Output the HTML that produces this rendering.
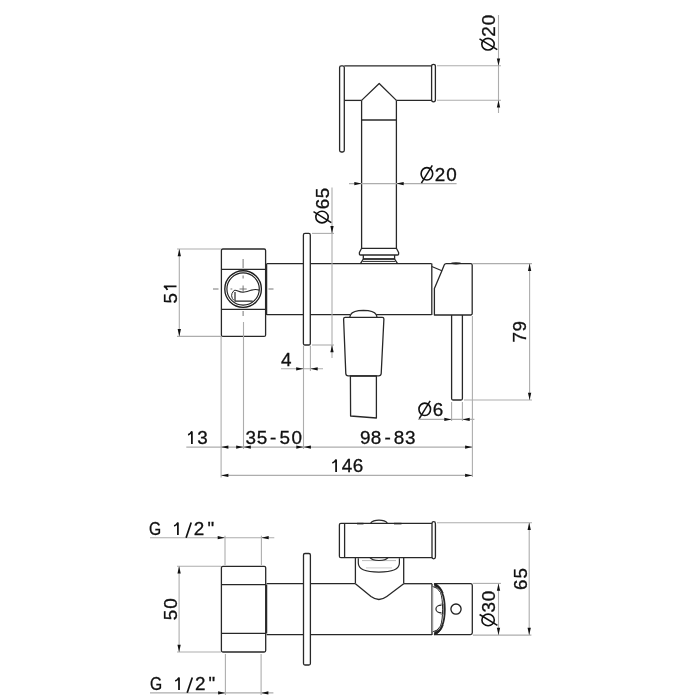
<!DOCTYPE html>
<html><head><meta charset="utf-8"><style>
html,body{margin:0;padding:0;background:#fff;width:700px;height:700px;overflow:hidden}
svg{display:block;will-change:transform}
text{font-family:"Liberation Sans",sans-serif}
</style></head><body>
<svg width="700" height="700" viewBox="0 0 700 700">
<rect width="700" height="700" fill="#fff"/>
<path d="M339.6,67.5 Q339.6,65.8 341.3,65.8 L342.6,65.8 Q344.3,65.8 344.3,67.5 L344.3,150.3 Q344.3,152 342.6,152 L341.3,152 Q339.6,152 339.6,150.3 Z" stroke="#282828" stroke-width="1.3" fill="none" stroke-linejoin="round" />
<line x1="344.3" y1="65.8" x2="431.6" y2="65.8" stroke="#282828" stroke-width="1.3" />
<line x1="344.3" y1="100.4" x2="361.6" y2="100.4" stroke="#282828" stroke-width="1.3" />
<line x1="396.4" y1="100.4" x2="431.6" y2="100.4" stroke="#282828" stroke-width="1.3" />
<path d="M361.6,100.4 L379.2,83.5 L396.4,100.4" stroke="#282828" stroke-width="1.3" fill="none" stroke-linejoin="round" />
<path d="M431.6,66.2 Q431.6,64.4 433.5,64.4 Q435.4,64.4 435.4,66.2 L435.4,100 Q435.4,101.8 433.5,101.8 Q431.6,101.8 431.6,100 Z" stroke="#282828" stroke-width="1.3" fill="none" stroke-linejoin="round" />
<line x1="361.6" y1="100.4" x2="361.6" y2="248.3" stroke="#282828" stroke-width="1.3" />
<line x1="396.4" y1="100.4" x2="396.4" y2="248.3" stroke="#282828" stroke-width="1.3" />
<line x1="361.6" y1="120.0" x2="396.4" y2="120.0" stroke="#282828" stroke-width="1.7" />
<path d="M361.6,248.3 L396.4,248.3 L398.6,252.5 L398.6,254.2 Q398.6,255 397.6,255 L360.4,255 Q359.4,255 359.4,254.2 L359.4,252.5 Z" stroke="#282828" stroke-width="1.3" fill="none" stroke-linejoin="round" />
<path d="M363.3,255 L363.3,259 L394.6,259 L394.6,255" stroke="#282828" stroke-width="1.3" fill="none" stroke-linejoin="round" />
<line x1="363.3" y1="259" x2="394.6" y2="259" stroke="#282828" stroke-width="1.2" />
<line x1="362.5" y1="261.4" x2="395.4" y2="261.4" stroke="#282828" stroke-width="1.0" />
<path d="M363.3,259 L360.6,263.4 M394.6,259 L397.4,263.4" stroke="#282828" stroke-width="1.3" fill="none" stroke-linejoin="round" />
<path d="M221.4,250.5 Q221.4,249 222.9,249 L264.1,249 Q265.6,249 265.6,250.5 L265.6,334.9 Q265.6,336.4 264.1,336.4 L222.9,336.4 Q221.4,336.4 221.4,334.9 Z" stroke="#282828" stroke-width="1.3" fill="none" stroke-linejoin="round" />
<line x1="221.4" y1="269.4" x2="265.6" y2="269.4" stroke="#282828" stroke-width="1.3" />
<line x1="221.4" y1="309.4" x2="265.6" y2="309.4" stroke="#282828" stroke-width="1.3" />
<circle cx="243.1" cy="289" r="18.3" stroke="#1e1e1e" stroke-width="1.35" fill="none"/>
<circle cx="243.1" cy="289" r="16.2" stroke="#1e1e1e" stroke-width="1.15" fill="none"/>
<path d="M234.1,290.4 Q235.6,289.9 237.9,291 Q240.5,292.2 243,292.2 Q247,292 251.6,290.1 Q255.6,289 259.3,290.1" stroke="#282828" stroke-width="1.1" fill="none" stroke-linejoin="round" />
<path d="M235,291.9 L235,301.2 L252.7,301.2" stroke="#282828" stroke-width="1.2" fill="none" stroke-linejoin="round" />
<path d="M234.1,290.4 Q231.2,293.5 231.6,295.8 Q232,298.8 233.8,300.3" stroke="#282828" stroke-width="1.0" fill="none" stroke-linejoin="round" />
<line x1="243.1" y1="259" x2="243.1" y2="268" stroke="#666" stroke-width="0.9" />
<line x1="243.1" y1="275.5" x2="243.1" y2="278.5" stroke="#666" stroke-width="0.9" />
<line x1="243.1" y1="285.5" x2="243.1" y2="292.5" stroke="#666" stroke-width="0.9" />
<line x1="213" y1="289" x2="218.5" y2="289" stroke="#666" stroke-width="0.9" />
<line x1="230.5" y1="289" x2="232.3" y2="289" stroke="#666" stroke-width="0.9" />
<line x1="239.5" y1="289" x2="246.7" y2="289" stroke="#666" stroke-width="0.9" />
<line x1="268.5" y1="289" x2="273.5" y2="289" stroke="#666" stroke-width="0.9" />
<line x1="243.1" y1="311" x2="243.1" y2="316" stroke="#666" stroke-width="0.9" />
<line x1="266.8" y1="263.6" x2="431.6" y2="263.6" stroke="#282828" stroke-width="1.3" />
<line x1="266.8" y1="314.6" x2="350.6" y2="314.6" stroke="#282828" stroke-width="1.3" />
<line x1="376.2" y1="314.6" x2="431.6" y2="314.6" stroke="#282828" stroke-width="1.3" />
<path d="M266.6,263.6 L266.6,315" stroke="#282828" stroke-width="1.3" fill="none" stroke-linejoin="round" />
<line x1="431.8" y1="263.6" x2="431.8" y2="315" stroke="#282828" stroke-width="1.3" />
<path d="M303.4,235 Q303.4,233.4 305,233.4 L308.7,233.4 Q310.3,233.4 310.3,235 L310.3,343.4 Q310.3,345 308.7,345 L305,345 Q303.4,345 303.4,343.4 Z" stroke="#282828" stroke-width="1.3" fill="#fff" stroke-linejoin="round" />
<path d="M434.4,315 L434.4,288.6 L441.9,270.8 L444.2,265 Q444.8,263.6 446.2,263.6 L470.8,263.6 Q472.2,263.6 472.2,265 L472.2,313.6 Q472.2,315 470.8,315 Z" stroke="#282828" stroke-width="1.3" fill="#fff" stroke-linejoin="round" />
<path d="M431.8,266.4 L441.9,270.8" stroke="#282828" stroke-width="1.1" fill="none" stroke-linejoin="round" />
<ellipse cx="456" cy="263.3" rx="5" ry="1.1" fill="#222"/>
<path d="M451.6,315 L451.6,398.5 Q451.6,400 453,400 L461,400 Q462.4,400 462.4,398.5 L462.4,315" stroke="#282828" stroke-width="1.3" fill="none" stroke-linejoin="round" />
<path d="M350.6,314.6 Q353,310.6 363.4,310.4 Q373.8,310.6 376.2,314.6 L377,317" stroke="#282828" stroke-width="1.3" fill="none" stroke-linejoin="round" />
<path d="M350.6,314.6 L349.8,317" stroke="#282828" stroke-width="1.3" fill="none" stroke-linejoin="round" />
<path d="M343.6,319 Q343.6,317.4 345.2,317.4 L382.3,317.4 Q383.9,317.4 383.9,319 L381.2,373.5 Q381,375.8 378.7,375.8 L348.2,375.8 Q345.9,375.8 345.8,373.5 Z" stroke="#282828" stroke-width="1.3" fill="#fff" stroke-linejoin="round" />
<path d="M350.4,376 L376.4,376 L376.4,418 L350.6,416 Z" stroke="#282828" stroke-width="1.3" fill="none" stroke-linejoin="round" />
<line x1="437" y1="65.7" x2="501" y2="65.7" stroke="#adadad" stroke-width="1.1" />
<line x1="437" y1="100.3" x2="501" y2="100.3" stroke="#adadad" stroke-width="1.1" />
<line x1="498.5" y1="15" x2="498.5" y2="113" stroke="#adadad" stroke-width="1.1" />
<polygon points="498.50,65.70 496.85,58.40 500.15,58.40" fill="#111"/>
<polygon points="498.50,100.30 496.85,107.60 500.15,107.60" fill="#111"/>
<line x1="349" y1="183.6" x2="456.6" y2="183.6" stroke="#adadad" stroke-width="1.1" />
<polygon points="361.60,183.60 354.30,181.95 354.30,185.25" fill="#111"/>
<polygon points="396.40,183.60 403.70,181.95 403.70,185.25" fill="#111"/>
<line x1="312" y1="233.4" x2="334" y2="233.4" stroke="#adadad" stroke-width="1.1" />
<line x1="312" y1="345" x2="334" y2="345" stroke="#adadad" stroke-width="1.1" />
<line x1="332" y1="187.4" x2="332" y2="358" stroke="#adadad" stroke-width="1.1" />
<polygon points="332.00,233.40 330.35,226.10 333.65,226.10" fill="#111"/>
<polygon points="332.00,345.00 330.35,352.30 333.65,352.30" fill="#111"/>
<line x1="303.5" y1="346" x2="303.5" y2="449" stroke="#adadad" stroke-width="1.1" />
<line x1="310.4" y1="346" x2="310.4" y2="371" stroke="#adadad" stroke-width="1.1" />
<line x1="281" y1="368.8" x2="323" y2="368.8" stroke="#adadad" stroke-width="1.1" />
<polygon points="303.50,368.80 296.20,367.15 296.20,370.45" fill="#111"/>
<polygon points="310.40,368.80 317.70,367.15 317.70,370.45" fill="#111"/>
<line x1="177" y1="249" x2="221" y2="249" stroke="#adadad" stroke-width="1.1" />
<line x1="177" y1="336.4" x2="221" y2="336.4" stroke="#adadad" stroke-width="1.1" />
<line x1="179.3" y1="249" x2="179.3" y2="336.4" stroke="#adadad" stroke-width="1.1" />
<polygon points="179.30,249.00 177.65,256.30 180.95,256.30" fill="#111"/>
<polygon points="179.30,336.40 177.65,329.10 180.95,329.10" fill="#111"/>
<line x1="472.5" y1="263.6" x2="532" y2="263.6" stroke="#adadad" stroke-width="1.1" />
<line x1="464" y1="400" x2="532" y2="400" stroke="#adadad" stroke-width="1.1" />
<line x1="529.6" y1="263.6" x2="529.6" y2="400" stroke="#adadad" stroke-width="1.1" />
<polygon points="529.60,263.60 527.95,270.90 531.25,270.90" fill="#111"/>
<polygon points="529.60,400.00 527.95,392.70 531.25,392.70" fill="#111"/>
<line x1="451.6" y1="402" x2="451.6" y2="421" stroke="#adadad" stroke-width="1.1" />
<line x1="462.4" y1="402" x2="462.4" y2="421" stroke="#adadad" stroke-width="1.1" />
<line x1="418" y1="419.4" x2="474.4" y2="419.4" stroke="#adadad" stroke-width="1.1" />
<polygon points="451.60,419.40 444.30,417.75 444.30,421.05" fill="#111"/>
<polygon points="462.40,419.40 469.70,417.75 469.70,421.05" fill="#111"/>
<line x1="221.1" y1="337" x2="221.1" y2="477.4" stroke="#adadad" stroke-width="1.1" />
<line x1="243.5" y1="322" x2="243.5" y2="449" stroke="#adadad" stroke-width="1.1" />
<line x1="472.4" y1="316" x2="472.4" y2="477" stroke="#adadad" stroke-width="1.1" />
<line x1="186.3" y1="447.1" x2="472.4" y2="447.1" stroke="#adadad" stroke-width="1.1" />
<polygon points="221.10,447.10 228.40,445.45 228.40,448.75" fill="#111"/>
<polygon points="243.50,447.10 236.20,445.45 236.20,448.75" fill="#111"/>
<polygon points="243.50,447.10 250.80,445.45 250.80,448.75" fill="#111"/>
<polygon points="303.60,447.10 296.30,445.45 296.30,448.75" fill="#111"/>
<polygon points="303.60,447.10 310.90,445.45 310.90,448.75" fill="#111"/>
<polygon points="472.40,447.10 465.10,445.45 465.10,448.75" fill="#111"/>
<line x1="221.1" y1="475.4" x2="472.4" y2="475.4" stroke="#adadad" stroke-width="1.1" />
<polygon points="221.10,475.40 228.40,473.75 228.40,477.05" fill="#111"/>
<polygon points="472.40,475.40 465.10,473.75 465.10,477.05" fill="#111"/>
<path d="M221.4,567.8 Q221.4,566.3 222.9,566.3 L264.2,566.3 Q265.7,566.3 265.7,567.8 L265.7,650.5 Q265.7,652 264.2,652 L222.9,652 Q221.4,652 221.4,650.5 Z" stroke="#282828" stroke-width="1.3" fill="none" stroke-linejoin="round" />
<line x1="221.4" y1="584.6" x2="265.7" y2="584.6" stroke="#282828" stroke-width="1.3" />
<line x1="221.4" y1="633.4" x2="265.7" y2="633.4" stroke="#282828" stroke-width="1.3" />
<line x1="266.6" y1="584.6" x2="266.6" y2="633.4" stroke="#282828" stroke-width="1.3" />
<line x1="266.6" y1="583.7" x2="355.4" y2="583.7" stroke="#282828" stroke-width="1.3" />
<line x1="403.7" y1="583.7" x2="432" y2="583.7" stroke="#282828" stroke-width="1.3" />
<line x1="266.6" y1="634.6" x2="432" y2="634.6" stroke="#282828" stroke-width="1.3" />
<line x1="432" y1="583.7" x2="432" y2="635" stroke="#282828" stroke-width="1.3" />
<path d="M303.5,555 Q303.5,553.5 305,553.5 L308.9,553.5 Q310.4,553.5 310.4,555 L310.4,663.5 Q310.4,665 308.9,665 L305,665 Q303.5,665 303.5,663.5 Z" stroke="#282828" stroke-width="1.3" fill="#fff" stroke-linejoin="round" />
<line x1="355.4" y1="557.7" x2="355.4" y2="583.7" stroke="#282828" stroke-width="1.3" />
<line x1="403.7" y1="557.7" x2="403.7" y2="583.7" stroke="#282828" stroke-width="1.3" />
<path d="M355.4,583.7 L371,596.6 Q378.9,602.4 386.8,596.6 L403.7,583.7" stroke="#282828" stroke-width="1.3" fill="#fff" stroke-linejoin="round" />
<path d="M358.3,558.2 L358.3,563 Q358.3,572.1 378.9,572.1 Q399.4,572.1 399.4,563 L399.4,558.2" stroke="#282828" stroke-width="1.2" fill="none" stroke-linejoin="round" />
<line x1="366" y1="567.9" x2="392" y2="567.9" stroke="#ccc" stroke-width="1.0" />
<line x1="362" y1="560.6" x2="396" y2="560.6" stroke="#bbb" stroke-width="1.0" />
<path d="M339.4,524.8 Q339.4,523.3 340.9,523.3 L433.5,523.3 Q435.4,523.3 435.4,525.2 L435.4,556 Q435.4,557.7 433.5,557.7 L340.9,557.7 Q339.4,557.7 339.4,556.2 Z" stroke="#282828" stroke-width="1.3" fill="#fff" stroke-linejoin="round" />
<line x1="344.6" y1="523.3" x2="344.6" y2="557.7" stroke="#282828" stroke-width="1.3" />
<path d="M432,523.5 Q432,521.7 433.7,521.7 Q435.4,521.7 435.4,523.5 L435.4,557.1 Q435.4,558.9 433.7,558.9 Q432,558.9 432,557.1 Z" stroke="#282828" stroke-width="1.3" fill="#fff" stroke-linejoin="round" />
<path d="M370.5,523.3 Q373,520.2 379,520.2 Q385,520.2 387.5,523.3" stroke="#282828" stroke-width="1.2" fill="none" stroke-linejoin="round" />
<path d="M370,557.7 Q372,560.5 379,560.5 Q386,560.5 388,557.7" stroke="#282828" stroke-width="1.2" fill="none" stroke-linejoin="round" />
<line x1="357" y1="523.6" x2="363.5" y2="523.6" stroke="#282828" stroke-width="1.6" />
<line x1="394" y1="523.6" x2="401.5" y2="523.6" stroke="#282828" stroke-width="1.6" />
<path d="M434.3,583.6 L470.5,583.6 Q472.3,583.6 472.3,585.4 L472.3,632.8 Q472.3,634.6 470.5,634.6 L434.3,634.6" stroke="#282828" stroke-width="1.3" fill="none" stroke-linejoin="round" />
<path d="M434.3,583.8 Q444.8,589 444.8,609.2 Q444.8,629.4 434.3,634.5" stroke="#282828" stroke-width="1.8" fill="none" stroke-linejoin="round" />
<path d="M432.8,586.6 Q437.5,587 440.5,592.5 Q442.6,598 442.6,609.2 Q442.6,620.4 440.5,626 Q437.5,631.3 432.8,631.8" stroke="#282828" stroke-width="1.0" fill="none" stroke-linejoin="round" />
<path d="M441.5,605.2 A5.6,3.8 0 0 0 441.5,612.8" stroke="#282828" stroke-width="1.2" fill="none" stroke-linejoin="round" />
<path d="M440.6,604 L443.6,604 L443.6,614.2 L440.6,614.2" stroke="#555" stroke-width="0.7" fill="none" stroke-linejoin="round" />
<path d="M434.3,583.6 Q440.5,585.5 443.2,593 Q439.5,587.8 434.6,586.6 Z" stroke="#282828" stroke-width="0.6" fill="#1e1e1e" stroke-linejoin="round" />
<path d="M434.3,634.8 Q440.5,632.9 443.2,625.4 Q439.5,630.6 434.6,631.8 Z" stroke="#282828" stroke-width="0.6" fill="#1e1e1e" stroke-linejoin="round" />
<line x1="432.9" y1="587" x2="432.9" y2="631.5" stroke="#bbb" stroke-width="0.9" />
<circle cx="456" cy="609.1" r="5.1" stroke="#1e1e1e" stroke-width="1.3" fill="none"/>
<line x1="150" y1="537.7" x2="274.3" y2="537.7" stroke="#adadad" stroke-width="1.1" />
<polygon points="225.00,537.70 217.70,536.05 217.70,539.35" fill="#111"/>
<polygon points="261.40,537.70 268.70,536.05 268.70,539.35" fill="#111"/>
<line x1="225" y1="535.7" x2="225" y2="565" stroke="#adadad" stroke-width="1.1" />
<line x1="261.4" y1="535.7" x2="261.4" y2="565" stroke="#adadad" stroke-width="1.1" />
<line x1="150" y1="692.9" x2="273.4" y2="692.9" stroke="#adadad" stroke-width="1.1" />
<polygon points="225.40,692.90 218.10,691.25 218.10,694.55" fill="#111"/>
<polygon points="261.10,692.90 268.40,691.25 268.40,694.55" fill="#111"/>
<line x1="225.4" y1="654" x2="225.4" y2="695" stroke="#adadad" stroke-width="1.1" />
<line x1="261.1" y1="654" x2="261.1" y2="695" stroke="#adadad" stroke-width="1.1" />
<line x1="177" y1="566.3" x2="221" y2="566.3" stroke="#adadad" stroke-width="1.1" />
<line x1="177" y1="652" x2="221" y2="652" stroke="#adadad" stroke-width="1.1" />
<line x1="179.1" y1="566.3" x2="179.1" y2="652" stroke="#adadad" stroke-width="1.1" />
<polygon points="179.10,566.30 177.45,573.60 180.75,573.60" fill="#111"/>
<polygon points="179.10,652.00 177.45,644.70 180.75,644.70" fill="#111"/>
<line x1="473" y1="583.4" x2="501" y2="583.4" stroke="#adadad" stroke-width="1.1" />
<line x1="473" y1="635.1" x2="531.4" y2="635.1" stroke="#adadad" stroke-width="1.1" />
<line x1="498.5" y1="583.4" x2="498.5" y2="635.1" stroke="#adadad" stroke-width="1.1" />
<polygon points="498.50,583.40 496.85,590.70 500.15,590.70" fill="#111"/>
<polygon points="498.50,635.10 496.85,627.80 500.15,627.80" fill="#111"/>
<line x1="437" y1="522.8" x2="532" y2="522.8" stroke="#adadad" stroke-width="1.1" />
<line x1="529.2" y1="522.8" x2="529.2" y2="635.1" stroke="#adadad" stroke-width="1.1" />
<polygon points="529.20,522.80 527.55,530.10 530.85,530.10" fill="#111"/>
<polygon points="529.20,635.10 527.55,627.80 530.85,627.80" fill="#111"/>
<g fill="#111" font-family="Liberation Sans, sans-serif">
<g transform="translate(494.7,50.7) rotate(-90)"><ellipse cx="6.5" cy="-6.7" rx="5.8" ry="6.2" stroke="#111" stroke-width="1.6" fill="none"/><line x1="1" y1="2.6" x2="11.9" y2="-15.2" stroke="#111" stroke-width="1.5"/></g>
<g transform="translate(494.7,0) rotate(-90)"><text transform="translate(-36.65,0.00) scale(1.05,1)" x="0" y="0" font-size="18.0" stroke="#111" stroke-width="0.3">2</text></g>
<g transform="translate(494.7,0) rotate(-90)"><text transform="translate(-25.34,0.00) scale(1.05,1)" x="0" y="0" font-size="18.0" stroke="#111" stroke-width="0.3">0</text></g>
<ellipse cx="426.90" cy="173.80" rx="5.8" ry="6.2" stroke="#111" stroke-width="1.6" fill="none"/>
<line x1="421.40" y1="183.10" x2="432.30" y2="165.30" stroke="#111" stroke-width="1.5"/>
<text transform="translate(434.75,180.50) scale(1.05,1)" x="0" y="0" font-size="18.0" stroke="#111" stroke-width="0.3">2</text>
<text transform="translate(446.36,180.50) scale(1.05,1)" x="0" y="0" font-size="18.0" stroke="#111" stroke-width="0.3">0</text>
<g transform="translate(328.7,223.6) rotate(-90)"><ellipse cx="6.5" cy="-6.7" rx="5.8" ry="6.2" stroke="#111" stroke-width="1.6" fill="none"/><line x1="1" y1="2.6" x2="11.9" y2="-15.2" stroke="#111" stroke-width="1.5"/></g>
<g transform="translate(328.7,0) rotate(-90)"><text transform="translate(-209.16,0.00) scale(1.05,1)" x="0" y="0" font-size="18.0" stroke="#111" stroke-width="0.3">6</text></g>
<g transform="translate(328.7,0) rotate(-90)"><text transform="translate(-198.26,0.00) scale(1.05,1)" x="0" y="0" font-size="18.0" stroke="#111" stroke-width="0.3">5</text></g>
<text transform="translate(280.97,365.50) scale(1.05,1)" x="0" y="0" font-size="18.0" stroke="#111" stroke-width="0.3">4</text>
<g transform="translate(176.5,0) rotate(-90)"><text transform="translate(-303.51,0.00) scale(1.05,1)" x="0" y="0" font-size="18.0" stroke="#111" stroke-width="0.3">5</text></g>
<g transform="translate(176.5,0) rotate(-90)"><path d="M-290.05,-9.10 Q-287.65,-9.90 -286.25,-12.50 L-286.25,0.00" stroke="#111" stroke-width="1.75" fill="none"/></g>
<g transform="translate(526.4,0) rotate(-90)"><text transform="translate(-342.46,0.00) scale(1.05,1)" x="0" y="0" font-size="18.0" stroke="#111" stroke-width="0.3">7</text></g>
<g transform="translate(526.4,0) rotate(-90)"><text transform="translate(-331.39,0.00) scale(1.05,1)" x="0" y="0" font-size="18.0" stroke="#111" stroke-width="0.3">9</text></g>
<ellipse cx="424.75" cy="409.30" rx="5.8" ry="6.2" stroke="#111" stroke-width="1.6" fill="none"/>
<line x1="419.25" y1="418.60" x2="430.15" y2="400.80" stroke="#111" stroke-width="1.5"/>
<text transform="translate(432.79,416.00) scale(1.05,1)" x="0" y="0" font-size="18.0" stroke="#111" stroke-width="0.3">6</text>
<path d="M188.10,434.80 Q190.50,434.00 191.90,431.40 L191.90,443.90" stroke="#111" stroke-width="1.75" fill="none"/>
<text transform="translate(197.28,443.90) scale(1.05,1)" x="0" y="0" font-size="18.0" stroke="#111" stroke-width="0.3">3</text>
<text transform="translate(245.38,443.90) scale(1.05,1)" x="0" y="0" font-size="18.0" stroke="#111" stroke-width="0.3">3</text>
<text transform="translate(256.84,443.90) scale(1.05,1)" x="0" y="0" font-size="18.0" stroke="#111" stroke-width="0.3">5</text>
<text transform="translate(270.07,443.90) scale(1.05,1)" x="0" y="0" font-size="18.0" stroke="#111" stroke-width="0.3">-</text>
<text transform="translate(279.44,443.90) scale(1.05,1)" x="0" y="0" font-size="18.0" stroke="#111" stroke-width="0.3">5</text>
<text transform="translate(291.46,443.90) scale(1.05,1)" x="0" y="0" font-size="18.0" stroke="#111" stroke-width="0.3">0</text>
<text transform="translate(360.11,444.20) scale(1.05,1)" x="0" y="0" font-size="18.0" stroke="#111" stroke-width="0.3">9</text>
<text transform="translate(370.79,444.20) scale(1.05,1)" x="0" y="0" font-size="18.0" stroke="#111" stroke-width="0.3">8</text>
<text transform="translate(384.47,444.20) scale(1.05,1)" x="0" y="0" font-size="18.0" stroke="#111" stroke-width="0.3">-</text>
<text transform="translate(393.79,444.20) scale(1.05,1)" x="0" y="0" font-size="18.0" stroke="#111" stroke-width="0.3">8</text>
<text transform="translate(404.98,444.20) scale(1.05,1)" x="0" y="0" font-size="18.0" stroke="#111" stroke-width="0.3">3</text>
<path d="M332.30,463.00 Q334.70,462.20 336.10,459.60 L336.10,472.10" stroke="#111" stroke-width="1.75" fill="none"/>
<text transform="translate(341.67,472.10) scale(1.05,1)" x="0" y="0" font-size="18.0" stroke="#111" stroke-width="0.3">4</text>
<text transform="translate(352.64,472.10) scale(1.05,1)" x="0" y="0" font-size="18.0" stroke="#111" stroke-width="0.3">6</text>
<text transform="translate(149.02,535.1) scale(0.87,1)" x="0" y="0" font-size="18.0" stroke="#111" stroke-width="0.3">G</text>
<path d="M174.10,526.00 Q176.50,525.20 177.90,522.60 L177.90,535.10" stroke="#111" stroke-width="1.75" fill="none"/>
<line x1="186.10" y1="537.70" x2="191.20" y2="522.50" stroke="#111" stroke-width="1.7"/>
<text transform="translate(193.86,535.10) scale(1.05,1)" x="0" y="0" font-size="18.0" stroke="#111" stroke-width="0.3">2</text>
<text transform="translate(207.41,535.10) scale(1.05,1)" x="0" y="0" font-size="18.0" stroke="#111" stroke-width="0.3">&quot;</text>
<text transform="translate(150.12,690.1) scale(0.87,1)" x="0" y="0" font-size="18.0" stroke="#111" stroke-width="0.3">G</text>
<path d="M175.20,681.00 Q177.60,680.20 179.00,677.60 L179.00,690.10" stroke="#111" stroke-width="1.75" fill="none"/>
<line x1="187.20" y1="692.70" x2="192.30" y2="677.50" stroke="#111" stroke-width="1.7"/>
<text transform="translate(194.96,690.10) scale(1.05,1)" x="0" y="0" font-size="18.0" stroke="#111" stroke-width="0.3">2</text>
<text transform="translate(208.51,690.10) scale(1.05,1)" x="0" y="0" font-size="18.0" stroke="#111" stroke-width="0.3">&quot;</text>
<g transform="translate(176.5,0) rotate(-90)"><text transform="translate(-620.26,0.00) scale(1.05,1)" x="0" y="0" font-size="18.0" stroke="#111" stroke-width="0.3">5</text></g>
<g transform="translate(176.5,0) rotate(-90)"><text transform="translate(-608.74,0.00) scale(1.05,1)" x="0" y="0" font-size="18.0" stroke="#111" stroke-width="0.3">0</text></g>
<g transform="translate(494.8,626.4) rotate(-90)"><ellipse cx="6.5" cy="-6.7" rx="5.8" ry="6.2" stroke="#111" stroke-width="1.6" fill="none"/><line x1="1" y1="2.6" x2="11.9" y2="-15.2" stroke="#111" stroke-width="1.5"/></g>
<g transform="translate(494.8,0) rotate(-90)"><text transform="translate(-612.52,0.00) scale(1.05,1)" x="0" y="0" font-size="18.0" stroke="#111" stroke-width="0.3">3</text></g>
<g transform="translate(494.8,0) rotate(-90)"><text transform="translate(-601.14,0.00) scale(1.05,1)" x="0" y="0" font-size="18.0" stroke="#111" stroke-width="0.3">0</text></g>
<g transform="translate(526.5,0) rotate(-90)"><text transform="translate(-589.96,0.00) scale(1.05,1)" x="0" y="0" font-size="18.0" stroke="#111" stroke-width="0.3">6</text></g>
<g transform="translate(526.5,0) rotate(-90)"><text transform="translate(-578.51,0.00) scale(1.05,1)" x="0" y="0" font-size="18.0" stroke="#111" stroke-width="0.3">5</text></g>
</g>
</svg>
</body></html>
